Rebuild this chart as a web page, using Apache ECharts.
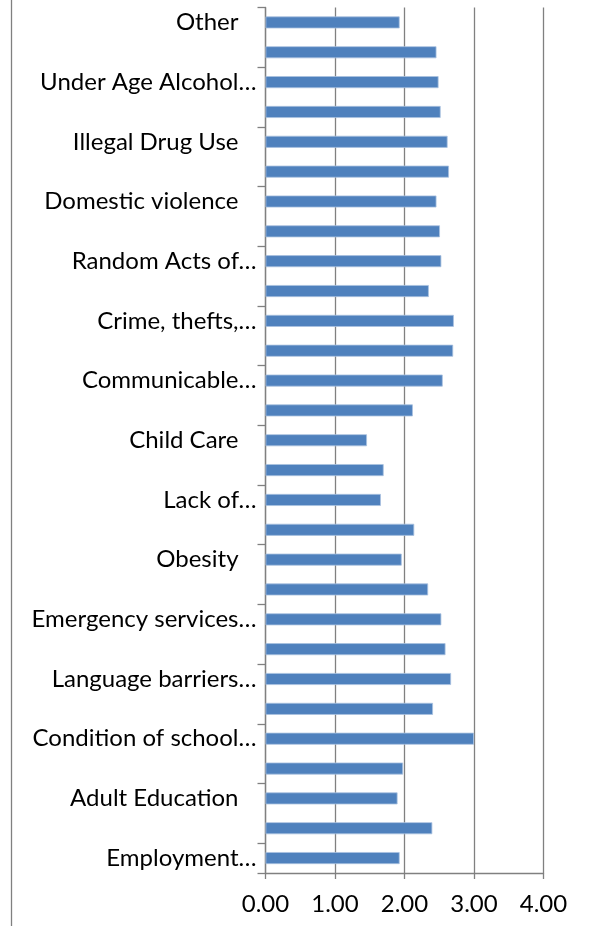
<!DOCTYPE html>
<html>
<head>
<meta charset="utf-8">
<script src="https://cdn.jsdelivr.net/npm/echarts@6/dist/echarts.min.js"></script>
<style>
html,body{margin:0;padding:0;background:#fff;}
#chart{width:589px;height:926px;}
</style>
</head>
<body>
<div id="chart"></div>
<script>
// Categories top to bottom (hidden alternate labels are not legible in the source)
var categories = [
  "Other", "(item 2)", "Under Age Alcohol\u2026", "(item 4)", "Illegal Drug Use", "(item 6)",
  "Domestic violence", "(item 8)", "Random Acts of\u2026", "(item 10)", "Crime, thefts,\u2026", "(item 12)",
  "Communicable\u2026", "(item 14)", "Child Care", "(item 16)", "Lack of\u2026", "(item 18)",
  "Obesity", "(item 20)", "Emergency services\u2026", "(item 22)", "Language barriers\u2026", "(item 24)",
  "Condition of school\u2026", "(item 26)", "Adult Education", "(item 28)", "Employment\u2026"
];
var values = [
  1.93, 2.46, 2.49, 2.52, 2.62, 2.64,
  2.46, 2.51, 2.53, 2.35, 2.71, 2.70,
  2.55, 2.12, 1.46, 1.70, 1.66, 2.14,
  1.96, 2.34, 2.53, 2.59, 2.67, 2.41,
  3.00, 1.98, 1.90, 2.40, 1.93
];
var xTicks = [0, 1, 2, 3, 4];

var chart = echarts.init(document.getElementById('chart'));
var font = 'Lato';
var fs = 24;
chart.setOption({
  animation: false,
  backgroundColor: '#fff',
  grid: {left: 265.5, right: 45.5, top: 7.5, bottom: 53, containLabel: false},
  xAxis: {
    type: 'value', min: xTicks[0], max: xTicks[xTicks.length - 1], interval: 1,
    axisLine: {show: true, lineStyle: {color: '#808080', width: 1.3}},
    axisTick: {show: true, length: 6, lineStyle: {color: '#808080', width: 1.3}},
    splitLine: {show: true, lineStyle: {color: '#808080', width: 1.3}},
    axisLabel: {
      formatter: function (v) { return v.toFixed(2); },
      color: '#000', fontFamily: font, fontSize: fs, margin: 19
    }
  },
  yAxis: {
    type: 'category', data: categories, inverse: true,
    axisLine: {show: true, lineStyle: {color: '#808080', width: 1.3}},
    axisTick: {show: true, length: 8, lineStyle: {color: '#808080', width: 1.3}},
    axisLabel: {
      interval: 1, color: '#000', fontFamily: font, fontSize: fs, margin: 9,
      formatter: function (v) {
        return v.indexOf('\u2026') >= 0 ? '{t|' + v + '}' : '{f|' + v + '}';
      },
      rich: {
        t: {color: '#000', fontFamily: font, fontSize: fs},
        f: {color: '#000', fontFamily: font, fontSize: fs, padding: [0, 18, 0, 0]}
      }
    }
  },
  series: [{
    type: 'bar', data: values, barWidth: 12,
    itemStyle: {color: '#4F81BD', borderColor: '#A9C1E0', borderWidth: 0.8}
  }],
  graphic: [{
    type: 'line', shape: {x1: 11.5, y1: 0, x2: 11.5, y2: 926},
    style: {stroke: '#808080', lineWidth: 1.3}
  }]
});
</script>
</body>
</html>
